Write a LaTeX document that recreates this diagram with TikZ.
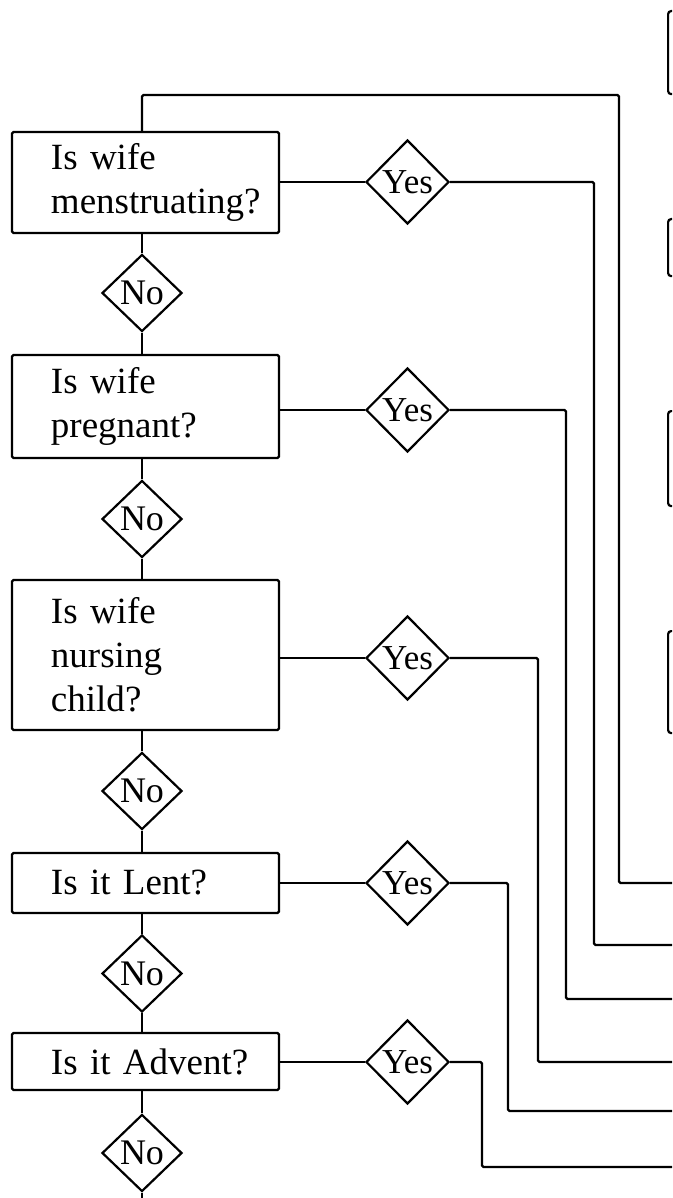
\documentclass[tikz,border=0pt]{standalone}
\usepackage{fontspec}
\setmainfont{Liberation Serif}
\usetikzlibrary{shapes.geometric}
\begin{document}
\begin{tikzpicture}[x=1pt,y=-1pt,
  qbox/.style={draw, line width=2.4pt, rounded corners=1.5pt, text width=267pt,
    inner xsep=0pt, inner ysep=0pt, align=left,
    font=\fontsize{37}{44}\selectfont,
    execute at begin node={\leftskip=39pt\relax}},
  yesd/.style={draw, shape=diamond, line width=2.2pt, minimum width=83pt,
    minimum height=84pt, inner sep=0pt, font=\fontsize{35}{35}\selectfont},
  nod/.style={draw, shape=diamond, line width=2.2pt, minimum width=80pt,
    minimum height=77pt, inner sep=0pt, font=\fontsize{36}{36}\selectfont},
  rbox/.style={draw, line width=2.2pt, rounded corners=3pt, minimum width=40pt,
    anchor=north west, inner sep=0pt},
  conn/.style={draw, line width=2.2pt, rounded corners=1.5pt}
]
\useasboundingbox (0,0) rectangle (672,1198);
\clip (0,0) rectangle (672,1198);

% question boxes
\node[qbox, minimum height=101pt] (A) at (145.5,182.5) {Is wife\\menstruating?};
\node[qbox, minimum height=103pt] (B) at (145.5,406.5) {Is wife\\pregnant?};
\node[qbox, minimum height=150pt] (C) at (145.5,655) {Is wife\\nursing\\child?};
\node[qbox, minimum height=60pt] (D) at (145.5,883) {Is it Lent?};
\node[qbox, minimum height=57pt] (E) at (145.5,1061.5) {Is it Advent?};

% yes diamonds
\node[yesd] (YA) at (407.5,182) {Yes};
\node[yesd] (YB) at (407.5,410) {Yes};
\node[yesd] (YC) at (407.5,658) {Yes};
\node[yesd] (YD) at (407.5,883) {Yes};
\node[yesd] (YE) at (407.5,1062) {Yes};

% no diamonds
\node[nod] (N1) at (142,293) {No};
\node[nod] (N2) at (142,519) {No};
\node[nod] (N3) at (142,791) {No};
\node[nod] (N4) at (142,973.5) {No};
\node[nod] (N5) at (142,1153) {No};

% partial boxes at right edge
\node[rbox, minimum height=83pt] (R1) at (667,10) {};
\node[rbox, minimum height=57pt] (R2) at (667,218) {};
\node[rbox, minimum height=95pt] (R3) at (667,410) {};
\node[rbox, minimum height=102pt] (R4) at (667,630) {};

% vertical No chain
\draw[conn] (A.south -| N1.north) -- (N1.north);
\draw[conn] (N1.south) -- (B.north -| N1.south);
\draw[conn] (B.south -| N2.north) -- (N2.north);
\draw[conn] (N2.south) -- (C.north -| N2.south);
\draw[conn] (C.south -| N3.north) -- (N3.north);
\draw[conn] (N3.south) -- (D.north -| N3.south);
\draw[conn] (D.south -| N4.north) -- (N4.north);
\draw[conn] (N4.south) -- (E.north -| N4.south);
\draw[conn] (E.south -| N5.north) -- (N5.north);
\coordinate (bot) at (142,1205);
\draw[conn] (N5.south) -- (bot);

% box to Yes
\draw[conn] (YA.west -| A.east) -- (YA.west);
\draw[conn] (YB.west -| B.east) -- (YB.west);
\draw[conn] (YC.west -| C.east) -- (YC.west);
\draw[conn] (YD.west -| D.east) -- (YD.west);
\draw[conn] (YE.west -| E.east) -- (YE.west);

% routes to right
\coordinate (tT) at (619,95);
\coordinate (eT) at (680,883);
\draw[conn] (A.north -| N1.north) |- (tT) |- (eT);

\coordinate (bA) at (594,945);  \coordinate (eA) at (680,945);
\coordinate (bB) at (566,999);  \coordinate (eB) at (680,999);
\coordinate (bC) at (538,1062); \coordinate (eC) at (680,1062);
\coordinate (bD) at (508,1111); \coordinate (eD) at (680,1111);
\coordinate (bE) at (482,1167); \coordinate (eE) at (680,1167);
\draw[conn] (YA.east) -| (bA) -- (eA);
\draw[conn] (YB.east) -| (bB) -- (eB);
\draw[conn] (YC.east) -| (bC) -- (eC);
\draw[conn] (YD.east) -| (bD) -- (eD);
\draw[conn] (YE.east) -| (bE) -- (eE);
\end{tikzpicture}
\end{document}
